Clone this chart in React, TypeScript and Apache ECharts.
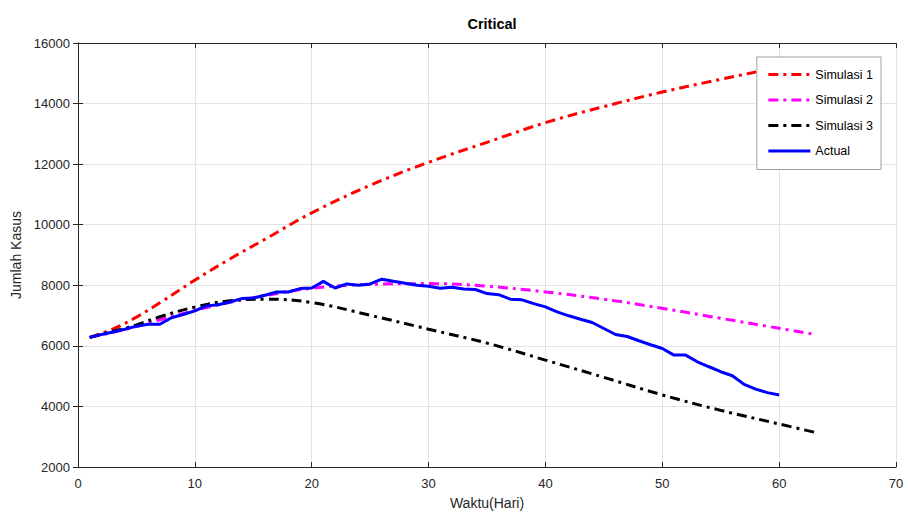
import React, { useEffect, useRef } from "react";
import * as echarts from "echarts";

const simDays = [1, 3, 5, 7, 10, 13, 16, 20, 25, 30, 35, 40, 45, 50, 55, 60, 63];
const sim1 = [6280, 6560, 6950, 7420, 8170, 8870, 9520, 10390, 11300, 12060, 12720, 13370, 13900, 14380, 14800, 15200, 15430];
const sim2 = [6280, 6450, 6640, 6860, 7170, 7440, 7660, 7900, 8030, 8055, 7970, 7780, 7540, 7240, 6910, 6580, 6380];
const sim3 = [6280, 6480, 6690, 6960, 7280, 7490, 7540, 7430, 7010, 6550, 6090, 5530, 4960, 4380, 3870, 3420, 3150];

const actualDays = Array.from({ length: 60 }, (_, i) => i + 1);
const actual = [
  6280, 6375, 6460, 6550, 6650, 6715, 6715, 6930, 7034, 7155,
  7320, 7360, 7450, 7560, 7580, 7670, 7780, 7780, 7890, 7910,
  8130, 7910, 8045, 8000, 8045, 8200, 8130, 8065, 8000, 7967,
  7900, 7935, 7880, 7860, 7725, 7690, 7540, 7520, 7395, 7288,
  7123, 6992, 6880, 6771, 6573, 6376, 6310, 6168, 6036, 5914,
  5694, 5694, 5475, 5310, 5146, 5014, 4728, 4573, 4455, 4376,
];

const seriesNames = ["Simulasi 1", "Simulasi 2", "Simulasi 3", "Actual"];
const xTicks = { min: 0, max: 70, interval: 10 };
const yTicks = { min: 2000, max: 16000, interval: 2000 };

const FONT = "'Liberation Sans', Arial, Helvetica, sans-serif";
const AX = "#262626";
const DASHDOT = [10, 5, 3, 5];

function pairs(xs: number[], ys: number[]) {
  return xs.map((x, i) => [x, ys[i]]);
}

export default function App() {
  const ref = useRef<HTMLDivElement>(null);
  useEffect(() => {
    if (!ref.current) return;
    const chart = echarts.init(ref.current, undefined, { renderer: "svg" });
    const axisCommon = {
      axisLine: { show: true, lineStyle: { color: AX, width: 1 } },
      axisTick: { show: true, inside: true, length: 5, lineStyle: { color: AX } },
    };
    chart.setOption({
      animation: false,
      backgroundColor: "#ffffff",
      textStyle: { fontFamily: FONT },
      title: {
        text: "Critical",
        left: 487,
        top: 11,
        textAlign: "center",
        textStyle: { fontFamily: FONT, fontSize: 14.5, fontWeight: "bold", color: "#000" },
      },
      legend: {
        orient: "vertical",
        right: 27,
        top: 57,
        data: seriesNames,
        itemWidth: 42,
        itemHeight: 14,
        itemGap: 12.5,
        padding: [11, 8, 12, 10],
        backgroundColor: "#ffffff",
        borderColor: "#a0a0a0",
        borderWidth: 1,
        borderRadius: 0,
        itemStyle: { opacity: 0 },
        lineStyle: { width: 3 },
        textStyle: { fontFamily: FONT, fontSize: 12.5, color: "#000" },
        z: 10,
      },
      grid: { left: 78, right: 12, top: 43, bottom: 45, containLabel: false },
      xAxis: [
        {
          type: "value",
          ...xTicks,
          name: "Waktu(Hari)",
          nameLocation: "middle",
          nameGap: 29,
          nameTextStyle: { fontFamily: FONT, fontSize: 14, color: AX },
          ...axisCommon,
          axisLabel: { fontFamily: FONT, fontSize: 13, color: AX, margin: 10 },
          splitLine: { show: true, lineStyle: { color: "#e3e3e3", width: 1 } },
        },
        {
          type: "value",
          ...xTicks,
          position: "top",
          ...axisCommon,
          axisLabel: { show: false },
          splitLine: { show: false },
        },
      ],
      yAxis: [
        {
          type: "value",
          ...yTicks,
          name: "Jumlah Kasus",
          nameLocation: "middle",
          nameGap: 48,
          nameTextStyle: { fontFamily: FONT, fontSize: 14, color: AX },
          ...axisCommon,
          axisLabel: {
            fontFamily: FONT,
            fontSize: 13,
            color: AX,
            margin: 8,
            formatter: (v: number) => String(v),
          },
          splitLine: { show: true, lineStyle: { color: "#e3e3e3", width: 1 } },
        },
        {
          type: "value",
          ...yTicks,
          position: "right",
          ...axisCommon,
          axisLabel: { show: false },
          splitLine: { show: false },
        },
      ],
      series: [
        {
          name: seriesNames[0],
          type: "line",
          data: pairs(simDays, sim1),
          smooth: 0.4,
          symbol: "none",
          color: "#ff0000",
          lineStyle: { color: "#ff0000", width: 3, type: DASHDOT },
          z: 2,
        },
        {
          name: seriesNames[1],
          type: "line",
          data: pairs(simDays, sim2),
          smooth: 0.4,
          symbol: "none",
          color: "#ff00ff",
          lineStyle: { color: "#ff00ff", width: 3, type: DASHDOT },
          z: 2,
        },
        {
          name: seriesNames[2],
          type: "line",
          data: pairs(simDays, sim3),
          smooth: 0.4,
          symbol: "none",
          color: "#000000",
          lineStyle: { color: "#000000", width: 3, type: DASHDOT },
          z: 2,
        },
        {
          name: seriesNames[3],
          type: "line",
          data: pairs(actualDays, actual),
          symbol: "none",
          color: "#0000ff",
          lineStyle: { color: "#0000ff", width: 3, type: "solid" },
          z: 3,
        },
      ],
    });
    return () => chart.dispose();
  }, []);
  return (
    <div
      ref={ref}
      style={{ width: 908, height: 515, position: "absolute", left: 0, top: 0, background: "#fff" }}
    />
  );
}
